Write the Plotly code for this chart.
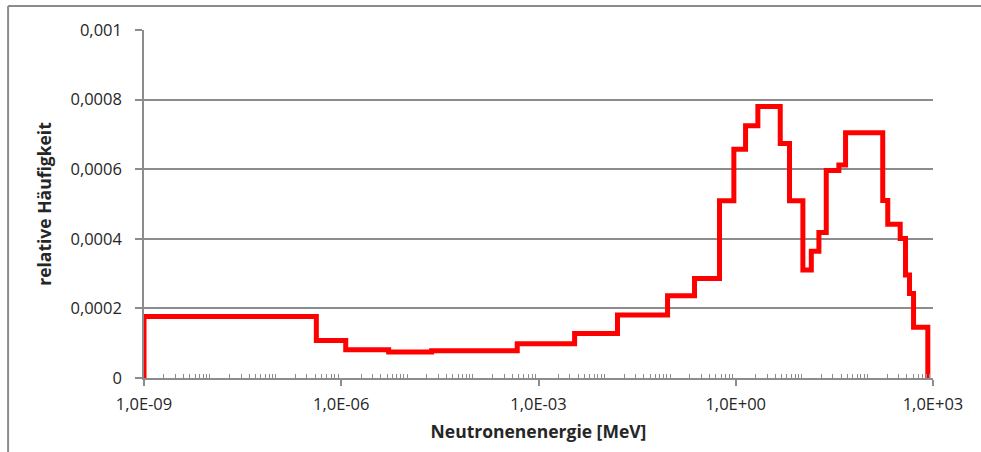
import plotly.graph_objects as go

# Bin edges (MeV) and relative frequency per bin
bin_edges = [1e-9, 4.18e-7, 1.17e-6, 5.26e-6, 2.37e-5, 4.75e-4, 3.54e-3, 0.0159,
             0.0918, 0.236, 0.566, 0.936, 1.41, 2.17, 4.75, 6.57, 10.5, 14.1,
             18.4, 23.8, 37.0, 46.8, 172, 205, 317, 382, 439, 506, 834]
bin_values = [0.000177, 0.000108, 0.0000815, 0.0000745, 0.0000785, 0.0000985,
              0.000128, 0.000181, 0.000236, 0.000286, 0.000509, 0.000657,
              0.000725, 0.00078, 0.000674, 0.000509, 0.00031, 0.000364,
              0.000418, 0.000596, 0.000612, 0.000705, 0.00051, 0.000442,
              0.000401, 0.000296, 0.000243, 0.000146]

x_tickvals = [1e-9, 1e-6, 1e-3, 1, 1e3]
x_ticktext = ["1,0E-09", "1,0E-06", "1,0E-03", "1,0E+00", "1,0E+03"]
y_tickvals = [0, 0.0002, 0.0004, 0.0006, 0.0008, 0.001]
y_ticktext = ["0", "0,0002", "0,0004", "0,0006", "0,0008", "0,001"]

# step outline: start at 0, each bin level, drop back to 0 at the last edge
xs = [bin_edges[0]] + bin_edges[:-1] + [bin_edges[-1]]
ys = [0] + bin_values + [0]

minor_vals = [k * 10.0 ** n for n in range(-9, 3) for k in range(1, 10)
              if not (k == 1 and n % 3 == 0)]

grid_col = "#8c8c8c"
font_fam = "Open Sans, Liberation Sans, sans-serif"

fig = go.Figure()
fig.add_trace(go.Scatter(x=xs, y=ys, mode="lines",
                         line=dict(color="#ff0000", width=5, shape="hv"),
                         showlegend=False))

L, R, T, B = 144, 933.5, 30, 378
W, H = 981, 452
pw, ph = R - L, B - T

def px(xp):
    return (xp - L) / pw

def py(yp):
    return (B - yp) / ph

fig.update_layout(
    width=W, height=H,
    margin=dict(l=L, r=W - R, t=T, b=H - B, pad=0),
    paper_bgcolor="white", plot_bgcolor="white",
    font=dict(family=font_fam, size=16.5, color="#262626"),
    xaxis=dict(type="log", range=[-9, 3], tickmode="array",
               tickvals=x_tickvals, ticktext=x_ticktext,
               showgrid=False, zeroline=False,
               showline=True, linecolor=grid_col, linewidth=1.5,
               ticks="outside", ticklen=6, tickwidth=1.5, tickcolor=grid_col,
               ticklabelstandoff=4,
               minor=dict(tickmode="array", tickvals=minor_vals, ticks="inside",
                          ticklen=4, tickwidth=1, tickcolor=grid_col,
                          showgrid=False),
               title=dict(text="<b>Neutronenenergie [MeV]</b>",
                          font=dict(size=17.5, family=font_fam), standoff=12)),
    yaxis=dict(range=[0, 0.001], tickmode="array",
               tickvals=y_tickvals, ticktext=y_ticktext,
               showgrid=True, gridcolor=grid_col, gridwidth=1.5,
               zeroline=False,
               showline=True, linecolor=grid_col, linewidth=1.5,
               ticks="outside", ticklen=7, tickwidth=1.5, tickcolor=grid_col,
               ticklabelstandoff=10,
               title=dict(text="<b>relative Häufigkeit</b>",
                          font=dict(size=17.5, family=font_fam), standoff=14)),
)

# outer chart border (left and top visible)
fig.add_shape(type="line", xref="paper", yref="paper",
              x0=px(8), x1=px(8), y0=py(6), y1=py(470),
              line=dict(color="#8c8c8c", width=2))
fig.add_shape(type="line", xref="paper", yref="paper",
              x0=px(8), x1=px(1000), y0=py(6), y1=py(6),
              line=dict(color="#8c8c8c", width=2))

fig.write_html("out.html")
